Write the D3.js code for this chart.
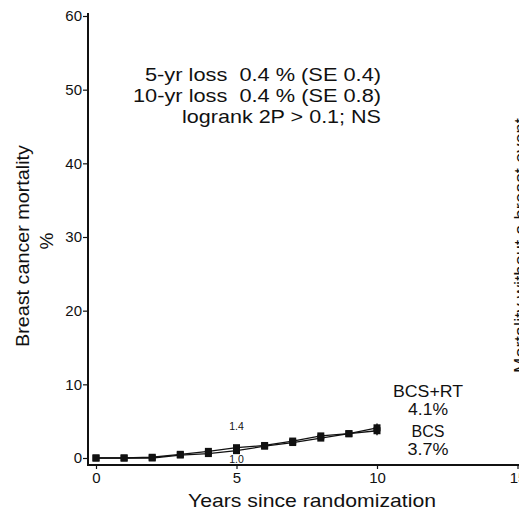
<!DOCTYPE html>
<html>
<head>
<meta charset="utf-8">
<script src="https://cdn.jsdelivr.net/npm/d3@7"></script>
<style>
  body { margin: 0; background: #fff; }
  svg { display: block; font-family: "Liberation Sans", Arial, sans-serif; }
  text { white-space: pre; }
</style>
</head>
<body>
<svg width="519" height="512"></svg>
<script>
// Data
const years = [0, 1, 2, 3, 4, 5, 6, 7, 8, 9, 10];
const bcsRT = [0, 0, 0.1, 0.5, 0.9, 1.4, 1.7, 2.3, 3.0, 3.3, 4.1];
const bcs = [0, 0, 0, 0.4, 0.6, 1.0, 1.6, 2.1, 2.7, 3.3, 3.7];
const yTicks = [0, 10, 20, 30, 40, 50, 60];
const xTicks = [0, 5, 10, 15];
const statLines = ["5-yr loss  0.4 % (SE 0.4)", "10-yr loss  0.4 % (SE 0.8)", "logrank 2P > 0.1; NS"];

const svg = d3.select("svg");
const ink = "#111";

const x = d3.scaleLinear().domain([0, 15]).range([96, 517.5]);
const y = d3.scaleLinear().domain([0, 60]).range([458, 16]);

// the original figure is a bit wider than tall, so text gets stretched to fit
function fit(sel, len) {
  sel.attr("textLength", len).attr("lengthAdjust", "spacingAndGlyphs");
}

// Axes lines
svg.append("line").attr("x1", 88).attr("x2", 519).attr("y1", 465).attr("y2", 465)
  .attr("stroke", ink).attr("stroke-width", 2);
svg.append("line").attr("x1", 88).attr("x2", 88).attr("y1", 13).attr("y2", 466)
  .attr("stroke", ink).attr("stroke-width", 2);

// Y axis ticks
const yAxis = svg.append("g").attr("transform", "translate(88,0)")
  .call(d3.axisLeft(y).tickValues(yTicks).tickSize(5).tickPadding(1));
yAxis.select(".domain").remove();
yAxis.selectAll("line").attr("stroke", ink).attr("stroke-width", 1.2);
yAxis.selectAll("text").attr("font-size", 15).attr("fill", ink)
  .attr("font-family", "Liberation Sans, Arial, sans-serif");

// X axis ticks
const xAxis = svg.append("g").attr("transform", "translate(0,465)")
  .call(d3.axisBottom(x).tickValues(xTicks).tickSize(4).tickPadding(3));
xAxis.select(".domain").remove();
xAxis.selectAll("line").attr("stroke", ink).attr("stroke-width", 1.2);
xAxis.selectAll("text").attr("font-size", 15).attr("fill", ink)
  .attr("font-family", "Liberation Sans, Arial, sans-serif");

// Axis titles
svg.append("text").attr("x", 312).attr("y", 507).attr("text-anchor", "middle")
  .attr("font-size", 19).attr("fill", ink).text("Years since randomization")
  .call(fit, 248);
svg.append("text").attr("transform", "translate(29,246) rotate(-90)").attr("text-anchor", "middle")
  .attr("font-size", 19).attr("fill", ink).text("Breast cancer mortality")
  .call(fit, 202);
svg.append("text").attr("transform", "translate(53,241) rotate(-90)").attr("text-anchor", "middle")
  .attr("font-size", 19).attr("fill", ink).text("%");

// Cut-off title from the neighbouring panel
svg.append("text").attr("transform", "translate(527,373) rotate(-90)").attr("text-anchor", "start")
  .attr("font-size", 19).attr("fill", ink).text("Mortality without a breast event")
  .call(fit, 255);

// Curves
const line = d3.line().x((d, i) => x(years[i])).y(d => y(d));
[bcs, bcsRT].forEach(s => {
  svg.append("path").datum(s).attr("d", line).attr("fill", "none")
    .attr("stroke", ink).attr("stroke-width", 1.3);
  svg.selectAll(null).data(s).join("rect")
    .attr("x", (d, i) => x(years[i]) - 3.5).attr("y", d => y(d) - 3.5)
    .attr("width", 7).attr("height", 7).attr("fill", ink);
});

// Small error bars at 10 years
[bcs, bcsRT].forEach(s => {
  const v = s[10];
  svg.append("line").attr("x1", x(10)).attr("x2", x(10))
    .attr("y1", y(v + 0.6)).attr("y2", y(v - 0.6)).attr("stroke", ink).attr("stroke-width", 1.4);
});

// 5-year values
svg.append("text").attr("x", x(5)).attr("y", y(bcsRT[5]) - 18).attr("text-anchor", "middle")
  .attr("font-size", 10.5).attr("fill", ink).text(bcsRT[5].toFixed(1));
svg.append("text").attr("x", x(5)).attr("y", y(bcs[5]) + 12).attr("text-anchor", "middle")
  .attr("font-size", 10.5).attr("fill", ink).text(bcs[5].toFixed(1));

// End labels
const endLabels = [["BCS+RT", 397, 70], [bcsRT[10].toFixed(1) + "%", 415, 40], ["BCS", 437, 33], [bcs[10].toFixed(1) + "%", 455, 41]];
svg.selectAll(null).data(endLabels).join("text")
  .attr("x", 428).attr("y", d => d[1]).attr("text-anchor", "middle")
  .attr("font-size", 16).attr("fill", ink).text(d => d[0])
  .attr("textLength", d => d[2]).attr("lengthAdjust", "spacingAndGlyphs");

// Stats block
const statWidths = [236, 248, 199];
svg.selectAll(null).data(statLines).join("text")
  .attr("x", 381).attr("y", (d, i) => 81 + i * 21).attr("text-anchor", "end")
  .attr("font-size", 19).attr("fill", ink).text(d => d)
  .attr("textLength", (d, i) => statWidths[i]).attr("lengthAdjust", "spacingAndGlyphs");
</script>
</body>
</html>
